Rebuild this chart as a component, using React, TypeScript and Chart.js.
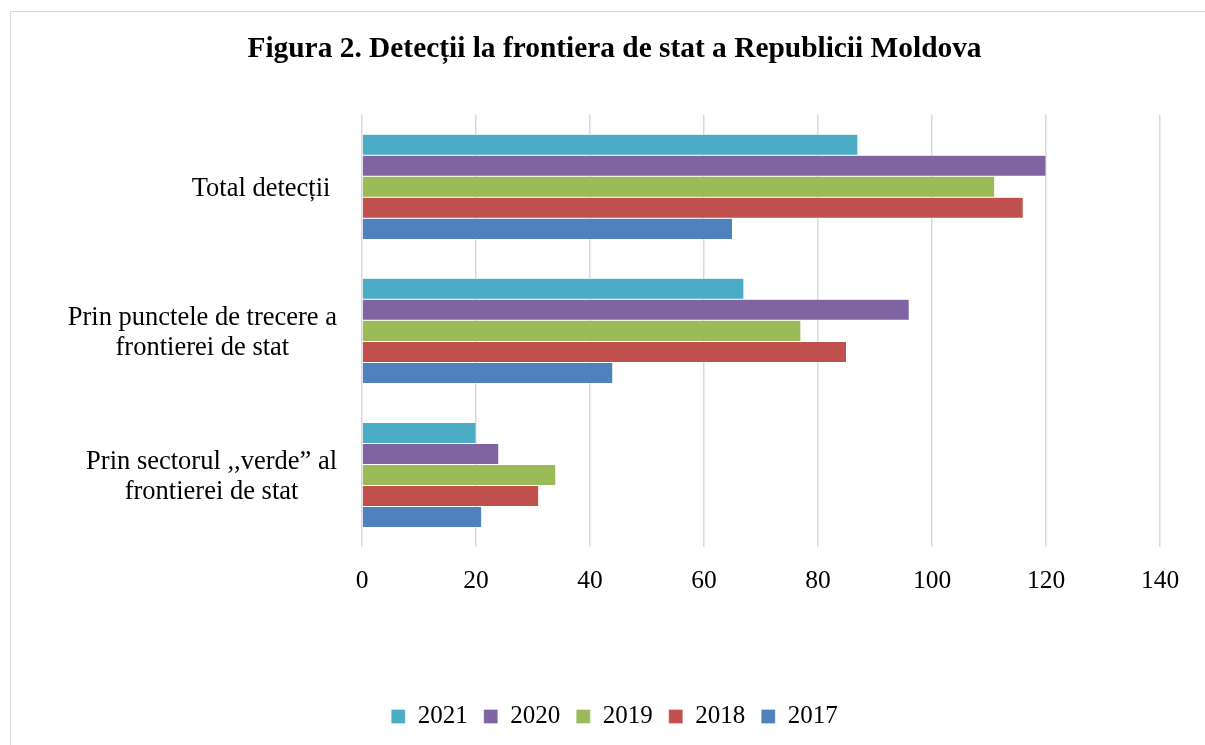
import React, { useEffect, useRef } from "react";
import { Chart, registerables } from "chart.js";

Chart.register(...registerables);

const categories: string[][] = [
  ["Total detecții "],
  ["Prin punctele de trecere a", "frontierei de stat"],
  ["Prin sectorul ,,verde” al", "frontierei de stat"],
];
const seriesNames = ["2021", "2020", "2019", "2018", "2017"];
const values2021 = [87, 67, 20];
const values2020 = [120, 96, 24];
const values2019 = [111, 77, 34];
const values2018 = [116, 85, 31];
const values2017 = [65, 44, 21];
const seriesColors = ["#4BACC6", "#8064A2", "#9BBB59", "#C0504D", "#4F81BD"];
const xTicks = [0, 20, 40, 60, 80, 100, 120, 140];
const titleText = "Figura 2. Detecții la frontiera de stat a Republicii Moldova";

const FONT = '"Liberation Serif", "Times New Roman", serif';

const yLabelPlugin = {
  id: "yLabels",
  afterDraw(chart: any) {
    const ctx = chart.ctx;
    const y = chart.scales.y;
    ctx.save();
    ctx.font = `26.5px ${FONT}`;
    ctx.fillStyle = "#000";
    ctx.textAlign = "center";
    ctx.textBaseline = "middle";
    const rightEdge = chart.chartArea.left - 25;
    const lh = 30;
    categories.forEach((lines, i) => {
      const cy = y.getPixelForValue(i) + 2;
      const maxW = Math.max(...lines.map((l) => ctx.measureText(l).width));
      const cx = rightEdge - maxW / 2;
      const startY = cy - ((lines.length - 1) * lh) / 2;
      lines.forEach((l, j) => ctx.fillText(l, cx, startY + j * lh));
    });
    ctx.restore();
  },
};

export default function App() {
  const ref = useRef<HTMLCanvasElement | null>(null);
  useEffect(() => {
    if (!ref.current) return;
    const allValues = [values2021, values2020, values2019, values2018, values2017];
    const chart = new Chart(ref.current, {
      type: "bar",
      data: {
        labels: categories.map((c) => c.join(" ")),
        datasets: seriesNames.map((name, i) => ({
          label: name,
          data: allValues[i],
          backgroundColor: seriesColors[i],
          borderColor: "rgba(255,255,255,0.6)",
          borderWidth: 0.5,
          categoryPercentage: 0.73,
          barPercentage: 1.0,
        })),
      },
      options: {
        indexAxis: "y",
        animation: false,
        responsive: false,
        maintainAspectRatio: false,
        layout: { padding: { left: 58, right: 45, top: 0, bottom: 6 } },
        plugins: {
          title: {
            display: true,
            text: titleText,
            color: "#000",
            font: { family: FONT, size: 29.4, weight: "bold" },
            padding: { top: 20, bottom: 47.5 },
          },
          legend: {
            position: "bottom",
            labels: {
              color: "#000",
              font: { family: FONT, size: 25 },
              boxWidth: 14,
              boxHeight: 14,
              padding: 16,
            },
          },
          tooltip: { enabled: false },
        },
        scales: {
          x: {
            min: 0,
            max: 140,
            afterBuildTicks: (scale: any) => {
              scale.ticks = xTicks.map((v) => ({ value: v }));
            },
            afterFit: (scale: any) => {
              scale.height = 141;
            },
            grid: { color: "#D9D9D9", lineWidth: 1.5, drawTicks: false },
            border: { display: false },
            ticks: {
              color: "#000",
              font: { family: FONT, size: 25.5 },
              padding: 19,
            },
          },
          y: {
            afterFit: (scale: any) => {
              scale.width = 293;
            },
            grid: { display: false },
            border: { display: false },
            ticks: { display: false },
          },
        },
      },
      plugins: [yLabelPlugin],
    });
    return () => chart.destroy();
  }, []);

  return (
    <div
      style={{
        position: "absolute",
        left: 10,
        top: 11,
        width: 1194,
        height: 733,
        borderLeft: "1px solid #D9D9D9",
        borderTop: "1px solid #D9D9D9",
        background: "#fff",
        overflow: "hidden",
      }}
    >
      <canvas ref={ref} width={1194} height={733} style={{ display: "block", width: 1194, height: 733 }} />
    </div>
  );
}
